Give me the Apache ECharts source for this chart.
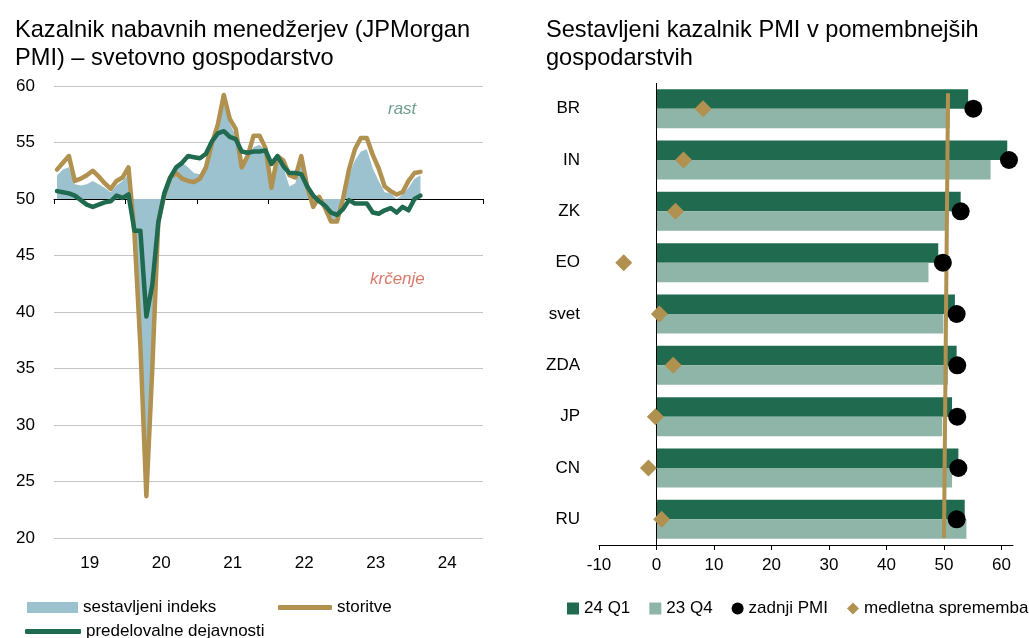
<!DOCTYPE html>
<html><head><meta charset="utf-8">
<script src="https://cdn.jsdelivr.net/npm/echarts@6/dist/echarts.min.js"></script>
<style>html,body{margin:0;padding:0;background:#fff}#c{width:1029px;height:638px}</style>
</head><body><div id="c"></div>
<script>
// ---- Left chart data: monthly, Jan 2019 .. Feb 2024 ----
const yearLabels = ['19','20','21','22','23','24'];
const composite = [
  52.1,52.6,52.8,51.3,51.2,51.3,51.6,51.3,51.0,50.6,51.2,51.6,
  52.2,46.1,39.4,26.2,36.3,47.8,50.6,52.3,52.6,53.2,52.8,52.3,
  52.2,53.2,54.8,56.3,58.4,56.7,55.6,53.0,53.5,54.6,54.8,54.3,
  51.6,53.4,52.8,51.1,51.4,53.4,50.8,49.3,50.0,49.0,48.1,48.2,
  49.7,52.1,53.4,54.2,54.4,52.7,51.6,50.6,50.5,50.0,50.4,51.0,
  51.8,52.1
];
const services = [
  52.6,53.2,53.8,51.6,51.8,52.1,52.5,52.0,51.4,50.9,51.6,51.9,
  52.8,47.0,37.0,23.7,35.0,48.0,50.3,51.9,52.3,51.8,51.6,51.5,
  51.8,52.8,54.9,56.6,59.2,57.1,56.2,52.8,53.8,55.6,55.6,54.5,
  51.0,53.8,53.4,52.1,51.9,53.8,51.1,49.3,50.2,49.2,48.0,48.0,
  50.0,52.6,54.4,55.4,55.4,53.9,52.7,51.1,50.7,50.4,50.6,51.6,
  52.3,52.4
];
const manufacturing = [
  50.7,50.6,50.5,50.3,49.9,49.5,49.3,49.5,49.7,49.8,50.3,50.1,
  50.4,47.2,47.2,39.6,42.4,47.9,50.5,51.9,52.8,53.2,53.8,53.7,
  53.6,54.0,55.1,55.8,56.0,55.5,55.3,54.2,54.1,54.2,54.2,54.3,
  53.1,53.8,52.9,52.3,52.3,52.2,51.1,50.3,49.8,49.4,48.8,48.6,
  49.1,49.9,49.6,49.6,49.6,48.8,48.7,49.0,49.2,48.8,49.3,49.0,
  50.0,50.3
];
// ---- Right chart data ----
const countries = ['BR','IN','ZK','EO','svet','ZDA','JP','CN','RU'];
const q1_24 = [54.2, 61.0, 52.9, 49.0, 51.9, 52.2, 51.4, 52.5, 53.6];
const q4_23 = [51.0, 58.1, 50.2, 47.3, 49.9, 50.7, 49.7, 51.4, 53.9];
const latestPMI = [55.1, 61.3, 52.9, 49.8, 52.2, 52.3, 52.3, 52.5, 52.2];
const yoyChange = [8.1, 4.7, 3.3, -5.7, 0.5, 2.9, -0.2, -1.4, 0.9];
const refLine = [[50.0, 0.015], [50.7, 0.978]];
const xTicksRight = [-10, 0, 10, 20, 30, 40, 50, 60];

const FONT = '"Liberation Sans", Arial, sans-serif';
const C_AREA = '#9CC2CF', C_GOLD = '#B09150', C_GREEN = '#206B50', C_LIGHT = '#8EB5A7';

const toXY = arr => arr.map((v, i) => [i + 0.5, v]);

const chart = echarts.init(document.getElementById('c'), null, {renderer: 'canvas'});
chart.setOption({
  animation: false,
  textStyle: {fontFamily: FONT},
  title: [
    {text: 'Kazalnik nabavnih menedžerjev (JPMorgan\nPMI) – svetovno gospodarstvo', left: 10, top: 11,
     textStyle: {fontFamily: FONT, fontSize: 23.6, fontWeight: 'normal', color: '#000', lineHeight: 28}},
    {text: 'Sestavljeni kazalnik PMI v pomembnejših\ngospodarstvih', left: 541, top: 11,
     textStyle: {fontFamily: FONT, fontSize: 23.6, fontWeight: 'normal', color: '#000', lineHeight: 28}}
  ],
  legend: [
    {data: [{name: 'sestavljeni indeks', icon: 'rect', itemStyle: {color: C_AREA}}], left: 22, top: 594,
     itemWidth: 51, itemHeight: 11, textStyle: {fontFamily: FONT, fontSize: 17, color: '#000'}},
    {data: [{name: 'storitve', icon: 'roundRect', itemStyle: {color: C_GOLD}}], left: 273, top: 594,
     itemWidth: 54, itemHeight: 5, textStyle: {fontFamily: FONT, fontSize: 17, color: '#000'}},
    {data: [{name: 'predelovalne dejavnosti', icon: 'roundRect', itemStyle: {color: C_GREEN}}], left: 20, top: 618,
     itemWidth: 56, itemHeight: 5, textStyle: {fontFamily: FONT, fontSize: 17, color: '#000'}},
    {data: [
       {name: '24 Q1', icon: 'rect'},
       {name: '23 Q4', icon: 'rect'},
       {name: 'zadnji PMI', icon: 'circle'},
       {name: 'medletna sprememba', icon: 'diamond'}],
     left: 562, top: 595, width: 470, itemWidth: 12, itemHeight: 12, itemGap: 19,
     textStyle: {fontFamily: FONT, fontSize: 17, color: '#000'}}
  ],
  grid: [
    {left: 54, right: 546, top: 86, bottom: 100},
    {left: 599, right: 16, top: 83, bottom: 93}
  ],
  xAxis: [
    {gridIndex: 0, type: 'value', position: 'bottom', min: 0, max: 72, interval: 12, offset: -339,
     axisLine: {show: true, onZero: false, lineStyle: {color: '#000', width: 1}},
     axisTick: {show: true, length: 5, lineStyle: {color: '#000'}},
     axisLabel: {show: false}, splitLine: {show: false}},
    {gridIndex: 0, type: 'value', position: 'bottom', min: 0, max: 72, interval: 6,
     axisLine: {show: false, onZero: false}, axisTick: {show: false}, splitLine: {show: false},
     axisLabel: {fontFamily: FONT, fontSize: 17, color: '#000', margin: 17,
       formatter: v => (v % 12 === 6 ? yearLabels[(v - 6) / 12] : '')}},
    {gridIndex: 1, type: 'value', position: 'bottom', min: -10, max: 62, interval: 10,
     axisLine: {show: true, onZero: false, lineStyle: {color: '#000', width: 1}},
     axisTick: {show: true, length: 5, lineStyle: {color: '#000'}, customValues: xTicksRight},
     axisLabel: {fontFamily: FONT, fontSize: 17, color: '#000', margin: 12, customValues: xTicksRight},
     splitLine: {show: false}}
  ],
  yAxis: [
    {gridIndex: 0, type: 'value', min: 20, max: 60, interval: 5,
     axisLine: {show: false}, axisTick: {show: false},
     axisLabel: {fontFamily: FONT, fontSize: 17, color: '#000', margin: 19},
     splitLine: {show: true, lineStyle: {color: '#C4C4C4', width: 1}}},
    {gridIndex: 1, type: 'category', data: countries, inverse: true,
     axisLine: {show: false}, axisTick: {show: false}, splitLine: {show: false},
     axisLabel: {fontFamily: FONT, fontSize: 17, color: '#000', margin: 19}},
    {gridIndex: 1, type: 'value', min: 0, max: 1, show: false}
  ],
  graphic: [
    {type: 'text', left: 388, top: 101, style: {text: 'rast', font: 'italic 17px ' + FONT, fill: '#6C9E8E'}},
    {type: 'text', left: 370, top: 271, style: {text: 'krčenje', font: 'italic 17px ' + FONT, fill: '#D9796A'}}
  ],
  series: [
    {name: 'sestavljeni indeks', type: 'line', xAxisIndex: 0, yAxisIndex: 0, data: toXY(composite),
     showSymbol: false, symbol: 'none', itemStyle: {color: C_AREA},
     lineStyle: {width: 0, color: C_AREA}, areaStyle: {color: C_AREA, opacity: 1, origin: 50}, z: 1},
    {name: 'storitve', type: 'line', xAxisIndex: 0, yAxisIndex: 0, data: toXY(services),
     showSymbol: false, symbol: 'none', itemStyle: {color: C_GOLD},
     lineStyle: {width: 4.5, color: C_GOLD, join: 'round', cap: 'round'}, z: 3},
    {name: 'predelovalne dejavnosti', type: 'line', xAxisIndex: 0, yAxisIndex: 0, data: toXY(manufacturing),
     showSymbol: false, symbol: 'none', itemStyle: {color: C_GREEN},
     lineStyle: {width: 4.5, color: C_GREEN, join: 'round', cap: 'round'}, z: 4},

    {name: '24 Q1', type: 'bar', xAxisIndex: 2, yAxisIndex: 1, data: q1_24,
     itemStyle: {color: C_GREEN}, barGap: '0%', barCategoryGap: '24%', z: 2,
     markLine: {silent: true, symbol: 'none', label: {show: false},
       lineStyle: {color: '#000', width: 1, type: 'solid'}, data: [{xAxis: 0}]}},
    {name: '23 Q4', type: 'bar', xAxisIndex: 2, yAxisIndex: 1, data: q4_23,
     itemStyle: {color: C_LIGHT}, barGap: '0%', barCategoryGap: '24%', z: 2},
    {name: 'ref50', type: 'line', xAxisIndex: 2, yAxisIndex: 2, data: refLine,
     showSymbol: false, symbol: 'none', lineStyle: {width: 4, color: C_GOLD}, z: 4},
    {name: 'zadnji PMI', type: 'scatter', xAxisIndex: 2, yAxisIndex: 1,
     data: countries.map((c, i) => [latestPMI[i], c]),
     symbol: 'circle', symbolSize: 18, itemStyle: {color: '#000', opacity: 1}, z: 5},
    {name: 'medletna sprememba', type: 'scatter', xAxisIndex: 2, yAxisIndex: 1,
     data: countries.map((c, i) => [yoyChange[i], c]),
     symbol: 'diamond', symbolSize: 17, itemStyle: {color: C_GOLD, opacity: 1}, z: 6}
  ]
});
</script></body></html>
